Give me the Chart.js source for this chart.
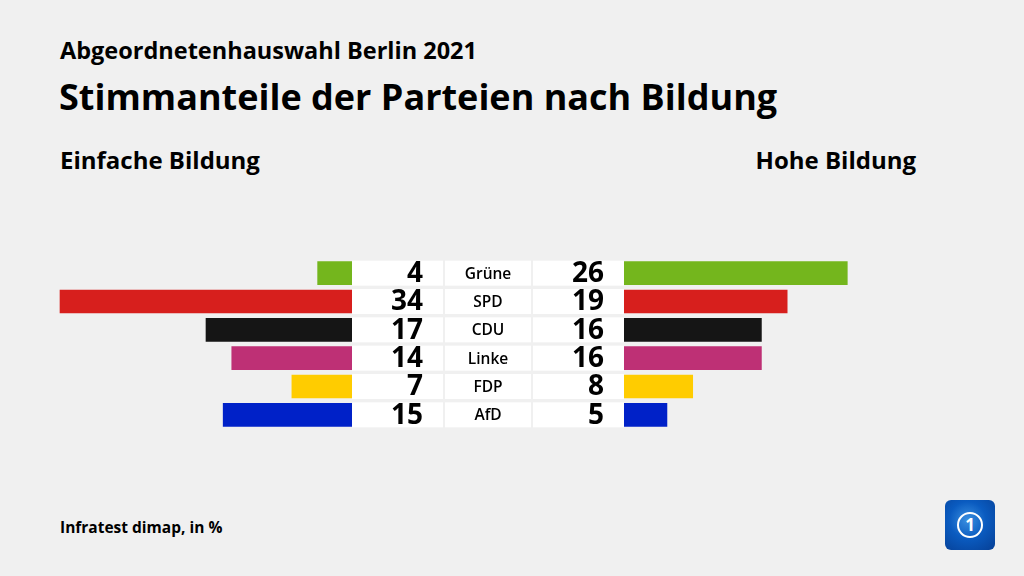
<!DOCTYPE html>
<html>
<head>
<meta charset="utf-8">
<script src="https://cdn.jsdelivr.net/npm/chart.js@4"></script>
<style>
  body { margin: 0; background: #f0f0f0; font-family: "Open Sans", sans-serif; }
  #wrap { position: relative; width: 1024px; height: 576px; overflow: hidden; }
  .txt { position: absolute; color: #000; font-weight: 700; white-space: nowrap; }
  #sub { left: 60px; top: 34px; font-size: 23.5px; }
  #title { left: 59px; top: 72px; font-size: 36px; }
  #hl { left: 60px; top: 143px; font-size: 24px; }
  #hr { right: 108px; top: 143px; font-size: 24px; }
  #src { left: 60px; top: 516px; font-size: 15.5px; }
  #chart { position: absolute; left: 0; top: 259px; }
  #logo { position: absolute; left: 945px; top: 500px; width: 50px; height: 50px; border-radius: 6px;
          background: radial-gradient(circle at 45% 40%, #3a8fe0 0%, #0a5bc0 45%, #063f95 100%); }
  #logo div { position: absolute; left: 12px; top: 12px; width: 22px; height: 22px; border: 2px solid #fff; border-radius: 50%;
              color: #fff; font: bold 17px "Open Sans"; text-align: center; line-height: 22px; }
</style>
</head>
<body>
<div id="wrap">
  <div class="txt" id="sub">Abgeordnetenhauswahl Berlin 2021</div>
  <div class="txt" id="title">Stimmanteile der Parteien nach Bildung</div>
  <div class="txt" id="hl">Einfache Bildung</div>
  <div class="txt" id="hr">Hohe Bildung</div>
  <canvas id="chart" width="1024" height="170"></canvas>
  <div class="txt" id="src">Infratest dimap, in %</div>
  <div id="logo"><div>1</div></div>
</div>
<script>
const parties = ['Grüne', 'SPD', 'CDU', 'Linke', 'FDP', 'AfD'];
const einfacheBildung = [4, 34, 17, 14, 7, 15];
const hoheBildung = [26, 19, 16, 16, 8, 5];
const partyColors = ['#74b61d', '#d71f1d', '#151515', '#be3075', '#ffcc00', '#0021c8'];

const pxPerUnit = 8.588;
const canvasWidth = 1024;
const zeroLeft = 352;   // where the left bars start
const zeroRight = 624;  // where the right bars start
const span = canvasWidth / pxPerUnit;

// white boxes with the numbers and party names in the middle
const middlePlugin = {
    id: 'middle',
    afterDatasetsDraw(chart) {
        const c = chart.ctx;
        const y = chart.scales.y;
        c.save();
        parties.forEach((p, i) => {
            const cy = y.getPixelForValue(i);
            c.fillStyle = '#ffffff';
            c.fillRect(352, cy - 12.5, 91, 25);
            c.fillRect(445, cy - 12.5, 86, 25);
            c.fillRect(533, cy - 12.5, 91, 25);
            c.fillStyle = '#000';
            c.textBaseline = 'middle';
            c.font = 'bold 28px "Open Sans"';
            c.textAlign = 'right';
            c.fillText(einfacheBildung[i], 423, cy + 1);
            c.fillText(hoheBildung[i], 604, cy + 1);
            c.font = '600 15.5px "Open Sans"';
            c.textAlign = 'center';
            c.fillText(p, 488, cy + 1);
        });
        c.restore();
    }
};

new Chart(document.getElementById('chart').getContext('2d'), {
    type: 'bar',
    data: {
        labels: parties,
        datasets: [{
            label: 'Einfache Bildung',
            data: einfacheBildung,
            backgroundColor: partyColors,
            xAxisID: 'xL',
            barThickness: 23
        }, {
            label: 'Hohe Bildung',
            data: hoheBildung,
            backgroundColor: partyColors,
            xAxisID: 'xR',
            barThickness: 23
        }]
    },
    options: {
        indexAxis: 'y',
        responsive: false,
        animation: false,
        layout: { padding: 0 },
        plugins: { legend: { display: false }, tooltip: { enabled: false } },
        scales: {
            y: { display: false, grid: { display: false }, stacked: true },
            xL: {
                type: 'linear', display: false, reverse: true,
                min: (zeroLeft - canvasWidth) / pxPerUnit,
                max: (zeroLeft - canvasWidth) / pxPerUnit + span
            },
            xR: {
                type: 'linear', display: false,
                min: -zeroRight / pxPerUnit,
                max: -zeroRight / pxPerUnit + span
            }
        }
    },
    plugins: [middlePlugin]
});
</script>
</body>
</html>
